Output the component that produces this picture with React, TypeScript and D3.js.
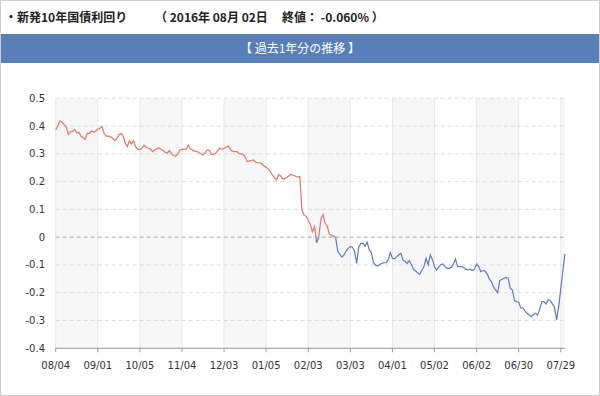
import React, { useEffect } from "react";
import * as d3 from "d3";

// Daily yields (%) of the newly issued 10-year JGB, 2015/08/04 .. 2016/08/02
const values: number[] = [
  0.386, 0.400, 0.419, 0.414, 0.405, 0.398, 0.370, 0.380, 0.380, 0.388,
  0.376, 0.378, 0.364, 0.358, 0.352, 0.374, 0.374, 0.383, 0.378, 0.382,
  0.388, 0.392, 0.398, 0.374, 0.364, 0.364, 0.362, 0.356, 0.348, 0.354,
  0.368, 0.374, 0.366, 0.340, 0.326, 0.346, 0.336, 0.348, 0.326, 0.316,
  0.316, 0.320, 0.332, 0.324, 0.320, 0.318, 0.308, 0.314, 0.318, 0.322,
  0.316, 0.312, 0.306, 0.302, 0.312, 0.302, 0.294, 0.292, 0.298, 0.314,
  0.316, 0.316, 0.316, 0.332, 0.318, 0.314, 0.310, 0.308, 0.306, 0.300,
  0.296, 0.304, 0.314, 0.312, 0.298, 0.298, 0.302, 0.312, 0.320, 0.316,
  0.320, 0.324, 0.328, 0.316, 0.310, 0.308, 0.308, 0.302, 0.300, 0.298,
  0.290, 0.272, 0.274, 0.276, 0.278, 0.270, 0.268, 0.268, 0.264, 0.256,
  0.252, 0.246, 0.236, 0.224, 0.214, 0.206, 0.226, 0.220, 0.208, 0.212,
  0.216, 0.222, 0.226, 0.222, 0.220, 0.216, 0.218, 0.098, 0.080, 0.075,
  0.062, 0.046, 0.020, 0.038, -0.020, 0.000, 0.064, 0.082, 0.050, 0.040,
  0.012, 0.006, 0.004, 0.000, -0.050, -0.062, -0.072, -0.064, -0.050, -0.040,
  -0.034, -0.036, -0.050, -0.094, -0.035, -0.022, -0.022, -0.032, -0.018, -0.046,
  -0.056, -0.092, -0.100, -0.104, -0.098, -0.094, -0.092, -0.092, -0.082, -0.055,
  -0.076, -0.078, -0.070, -0.064, -0.058, -0.082, -0.088, -0.094, -0.084, -0.098,
  -0.116, -0.122, -0.128, -0.134, -0.118, -0.106, -0.076, -0.100, -0.064, -0.080,
  -0.106, -0.118, -0.108, -0.098, -0.096, -0.106, -0.112, -0.112, -0.108, -0.096,
  -0.079, -0.106, -0.106, -0.106, -0.110, -0.116, -0.118, -0.115, -0.120, -0.115,
  -0.096, -0.106, -0.124, -0.120, -0.122, -0.132, -0.150, -0.160, -0.178, -0.190,
  -0.200, -0.156, -0.152, -0.148, -0.145, -0.148, -0.184, -0.190, -0.228, -0.232,
  -0.234, -0.255, -0.255, -0.266, -0.274, -0.280, -0.286, -0.278, -0.274, -0.280,
  -0.260, -0.232, -0.232, -0.240, -0.225, -0.228, -0.240, -0.252, -0.298, -0.250,
  -0.185, -0.120, -0.060,
];

// Category labels shown every 20 trading days
const tickLabels: string[] = [
  "08/04", "09/01", "10/05", "11/04", "12/03", "01/05", "02/03",
  "03/03", "04/01", "05/02", "06/02", "06/30", "07/29",
];
const tickEvery = 20;

const yTicks: number[] = [0.5, 0.4, 0.3, 0.2, 0.1, 0, -0.1, -0.2, -0.3, -0.4];
const yTickLabels: string[] = ["0.5", "0.4", "0.3", "0.2", "0.1", "0", "-0.1", "-0.2", "-0.3", "-0.4"];

const titleMain = "・新発10年国債利回り";
const titleDate = "（ 2016年 08月 02日";
const titleClose = "終値： -0.060% ）";
const bandTitle = "【 過去1年分の推移 】";

const W = 600;
const H = 396;
const plot = { left: 55.7, right: 565, top: 98.3, bottom: 348.3 };

export default function App() {
  useEffect(() => {
    document.body.style.margin = "0";
  }, []);

  const x = d3.scaleLinear().domain([0, values.length - 1]).range([plot.left, plot.right]);
  const y = d3.scaleLinear().domain([-0.4, 0.5]).range([plot.bottom, plot.top]);

  const line = d3
    .line<number>()
    .x((_, i) => x(i))
    .y((d) => y(d))
    .curve(d3.curveLinear);
  const pathD = line(values) || "";

  const tickIdx = tickLabels.map((_, k) => k * tickEvery);
  const bands: [number, number][] = [];
  for (let k = 0; k < tickIdx.length; k += 2) {
    const a = tickIdx[k];
    const b = Math.min(k + 1 < tickIdx.length ? tickIdx[k + 1] : values.length - 1, values.length - 1);
    bands.push([a, b]);
  }

  const y0 = y(0);
  const labelFont = "'DejaVu Sans', Verdana, sans-serif";
  const jpFont = "'Noto Sans CJK JP', 'Noto Sans', sans-serif";

  return (
    <svg width={W} height={H} style={{ display: "block" }} xmlns="http://www.w3.org/2000/svg">
      <defs>
        <clipPath id="clipPos">
          <rect x={0} y={0} width={W} height={y0} />
        </clipPath>
        <clipPath id="clipNeg">
          <rect x={0} y={y0} width={W} height={H - y0} />
        </clipPath>
      </defs>
      <rect x={0} y={0} width={W} height={H} fill="#ffffff" />
      <rect x={0.5} y={0.5} width={W - 1} height={H - 1} fill="none" stroke="#cfcfcf" />

      {/* Title */}
      <text x={5} y={22} fontFamily={jpFont} fontWeight="bold" fontSize={12} fill="#222">
        {titleMain}
      </text>
      <text x={155} y={22} fontFamily={jpFont} fontWeight="bold" fontSize={12} fill="#222" xmlSpace="preserve">
        {titleDate}
      </text>
      <text x={282} y={22} fontFamily={jpFont} fontWeight="bold" fontSize={12} fill="#222" xmlSpace="preserve">
        {titleClose}
      </text>

      {/* Band header */}
      <rect x={1} y={34} width={W - 2} height={29} fill="#5a7eb8" />
      <text x={W / 2} y={53} textAnchor="middle" fontFamily={jpFont} fontSize={12} fill="#ffffff" xmlSpace="preserve">
        {bandTitle}
      </text>

      {/* Alternating fills */}
      {bands.map(([a, b], i) => (
        <rect key={"b" + i} x={x(a)} y={plot.top} width={x(b) - x(a)} height={plot.bottom - plot.top} fill="#f7f7f7" />
      ))}

      {/* Vertical grid */}
      {tickIdx.map((t, i) => (
        <line key={"v" + i} x1={x(t)} x2={x(t)} y1={plot.top} y2={plot.bottom} stroke="#e8e8e8" strokeWidth={1} />
      ))}

      {/* Horizontal grid */}
      {yTicks.map((v, i) =>
        v === -0.4 ? null : (
          <line
            key={"h" + i}
            x1={plot.left}
            x2={plot.right}
            y1={y(v)}
            y2={y(v)}
            stroke={v === 0 ? "#a8a8a8" : "#dddddd"}
            strokeWidth={1}
            strokeDasharray="4,3"
          />
        )
      )}

      {/* X axis */}
      <line x1={plot.left} x2={plot.right} y1={plot.bottom} y2={plot.bottom} stroke="#999" strokeWidth={1} />
      {tickIdx.map((t, i) => (
        <g key={"xt" + i}>
          <line x1={x(t)} x2={x(t)} y1={plot.bottom} y2={plot.bottom + 4} stroke="#999" />
          <text x={x(t)} y={plot.bottom + 21} textAnchor="middle" fontFamily={labelFont} fontSize={10} fill="#333">
            {tickLabels[i]}
          </text>
        </g>
      ))}

      {/* Y labels */}
      {yTicks.map((v, i) => (
        <text key={"yl" + i} x={45} y={y(v) + 3.5} textAnchor="end" fontFamily={labelFont} fontSize={10} fill="#333">
          {yTickLabels[i]}
        </text>
      ))}

      {/* Line, coloured by sign */}
      <path d={pathD} fill="none" stroke="#e2746c" strokeWidth={1.2} clipPath="url(#clipPos)" />
      <path d={pathD} fill="none" stroke="#5b7bc3" strokeWidth={1.2} clipPath="url(#clipNeg)" />
    </svg>
  );
}
